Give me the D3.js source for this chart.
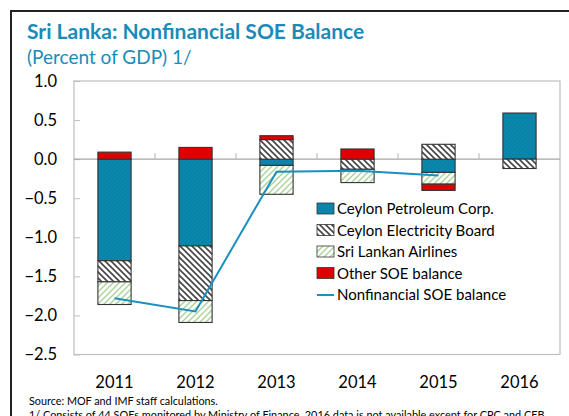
<!DOCTYPE html>
<html><head><meta charset="utf-8">
<script src="https://cdn.jsdelivr.net/npm/d3@7"></script>
<style>body{margin:0;background:#fff}svg{display:block}text{font-family:Lato,"Open Sans",sans-serif}</style>
</head><body>
<svg id="c" width="569" height="416"></svg>
<script>
const years = ["2011","2012","2013","2014","2015","2016"];
const cpc   = [-1.30, -1.11, -0.08, 0.00, -0.17, 0.59];
const ceb   = [-0.27, -0.70, 0.25, -0.13, 0.19, -0.12];
const sla   = [-0.29, -0.28, -0.37, -0.17, -0.15, 0.00];
const other = [0.09, 0.15, 0.05, 0.13, -0.08, 0.00];
const total = [-1.78, -1.95, -0.16, -0.15, -0.21, null];
const yTicks = [1.0, 0.5, 0.0, -0.5, -1.0, -1.5, -2.0, -2.5];
const seriesNames = ["Ceylon Petroleum Corp.","Ceylon Electricity Board","Sri Lankan Airlines","Other SOE balance"];
const lineName = "Nonfinancial SOE balance";

const svg = d3.select("#c");
const defs = svg.append("defs");
const pc = defs.append("pattern").attr("id","pCPC").attr("patternUnits","userSpaceOnUse").attr("width",4).attr("height",4);
pc.append("rect").attr("width",4).attr("height",4).attr("fill","#0a87ad");
pc.append("path").attr("d","M0,4 L4,0").attr("stroke","#0b7fa3").attr("stroke-width",1);
const pe = defs.append("pattern").attr("id","pCEB").attr("patternUnits","userSpaceOnUse").attr("width",6).attr("height",6);
pe.append("rect").attr("width",6).attr("height",6).attr("fill","#fff");
pe.append("path").attr("d","M0,0 L6,6 M-3,3 L3,9 M3,-3 L9,3").attr("stroke","#444").attr("stroke-width",1.6);
const ps = defs.append("pattern").attr("id","pSLA").attr("patternUnits","userSpaceOnUse").attr("width",6).attr("height",6);
ps.append("rect").attr("width",6).attr("height",6).attr("fill","#fff");
ps.append("path").attr("d","M0,6 L6,0 M-3,3 L3,-3 M3,9 L9,3").attr("stroke","#a9d39a").attr("stroke-width",1.4);
const fills = ["url(#pCPC)","url(#pCEB)","url(#pSLA)","#e00000"];

svg.append("line").attr("x1",10).attr("x2",569).attr("y1",11).attr("y2",11).attr("stroke","#222").attr("stroke-width",2);
svg.append("line").attr("x1",11).attr("x2",11).attr("y1",10).attr("y2",416).attr("stroke","#222").attr("stroke-width",2);

svg.append("text").attr("x",27).attr("y",39).attr("fill","#1a8bb9").attr("font-weight","bold").attr("font-size",21).text("Sri Lanka: Nonfinancial SOE Balance");
svg.append("text").attr("x",27).attr("y",64).attr("fill","#1a8bb9").attr("font-size",19).text("(Percent of GDP) 1/");

const L=74, R=560, T=81, B=354.5;
const x = d3.scaleBand().domain(years).range([L,R]).paddingInner(0.59).paddingOuter(0.295);
const y = d3.scaleLinear().domain([-2.5,1.0]).range([B,T]);

svg.append("rect").attr("x",L).attr("y",T).attr("width",R-L).attr("height",B-T).attr("fill","none").attr("stroke","#bfbfbf").attr("stroke-width",1.2);

const ya = svg.append("g").attr("transform",`translate(${L},0)`)
  .call(d3.axisRight(y).tickValues(yTicks).tickSize(6).tickFormat(d3.format(".1f")));
ya.select(".domain").remove();
ya.selectAll(".tick line").attr("stroke","#bfbfbf");
ya.selectAll(".tick text").attr("x",-17).attr("text-anchor","end").attr("font-size",16.5).attr("fill","#000").attr("font-family","Lato,'Open Sans',sans-serif");

const y0 = y(0);
svg.append("line").attr("x1",L).attr("x2",R).attr("y1",y0).attr("y2",y0).attr("stroke","#a6a6a6").attr("stroke-width",1.2);
const bounds = years.slice(1).map(d => x(d) - x.step()*x.paddingInner()/2);
svg.append("g").selectAll("line").data(bounds).join("line")
  .attr("x1",d=>d).attr("x2",d=>d).attr("y1",y0).attr("y2",y0-6).attr("stroke","#bfbfbf").attr("stroke-width",1.2);

const rows = years.map((yr,i)=>({year:yr, s0:cpc[i], s1:ceb[i], s2:sla[i], s3:other[i]}));
const stack = d3.stack().keys(["s0","s1","s2","s3"]).offset(d3.stackOffsetDiverging);
const stacked = stack(rows);
stacked.forEach((layer,k)=>{
  svg.append("g").selectAll("rect").data(layer.filter(d=>d[1]-d[0]!==0)).join("rect")
    .attr("x",d=>x(d.data.year)).attr("width",x.bandwidth())
    .attr("y",d=>y(d[1])).attr("height",d=>y(d[0])-y(d[1]))
    .attr("fill",fills[k]).attr("stroke","#333").attr("stroke-width",1.1);
});

const pts = years.map((yr,i)=>({yr, v: total[i]})).filter(d=>d.v!==null);
svg.append("path").datum(pts)
  .attr("d", d3.line().x(d=>x(d.yr)+x.bandwidth()/2).y(d=>y(d.v)))
  .attr("fill","none").attr("stroke","#1a8fc0").attr("stroke-width",2);

svg.append("g").selectAll("text").data(years).join("text")
  .attr("x",d=>x(d)+x.bandwidth()/2).attr("y",388).attr("text-anchor","middle").attr("font-size",16.5).attr("fill","#000").text(d=>d);

const lg = svg.append("g").attr("transform","translate(317,0)");
const rowsY = [209,230.5,252,273.5,295];
seriesNames.forEach((n,i)=>{
  lg.append("rect").attr("x",0).attr("y",rowsY[i]-6).attr("width",17).attr("height",11).attr("fill",fills[i]).attr("stroke","#333").attr("stroke-width",0.8);
  lg.append("text").attr("x",20).attr("y",rowsY[i]+5).attr("font-size",15).attr("fill","#000").text(n);
});
lg.append("line").attr("x1",0).attr("x2",17).attr("y1",rowsY[4]).attr("y2",rowsY[4]).attr("stroke","#1a8fc0").attr("stroke-width",2);
lg.append("text").attr("x",20).attr("y",rowsY[4]+5).attr("font-size",15).attr("fill","#000").text(lineName);

svg.append("text").attr("x",29).attr("y",405).attr("font-size",10.8).attr("fill","#000").text("Source: MOF and IMF staff calculations.");
svg.append("text").attr("x",29).attr("y",419).attr("font-size",10.8).attr("textLength",518).attr("lengthAdjust","spacingAndGlyphs").attr("fill","#000").text("1/ Consists of 44 SOEs monitored by Ministry of Finance. 2016 data is not available except for CPC and CEB.");
</script>
</body></html>
